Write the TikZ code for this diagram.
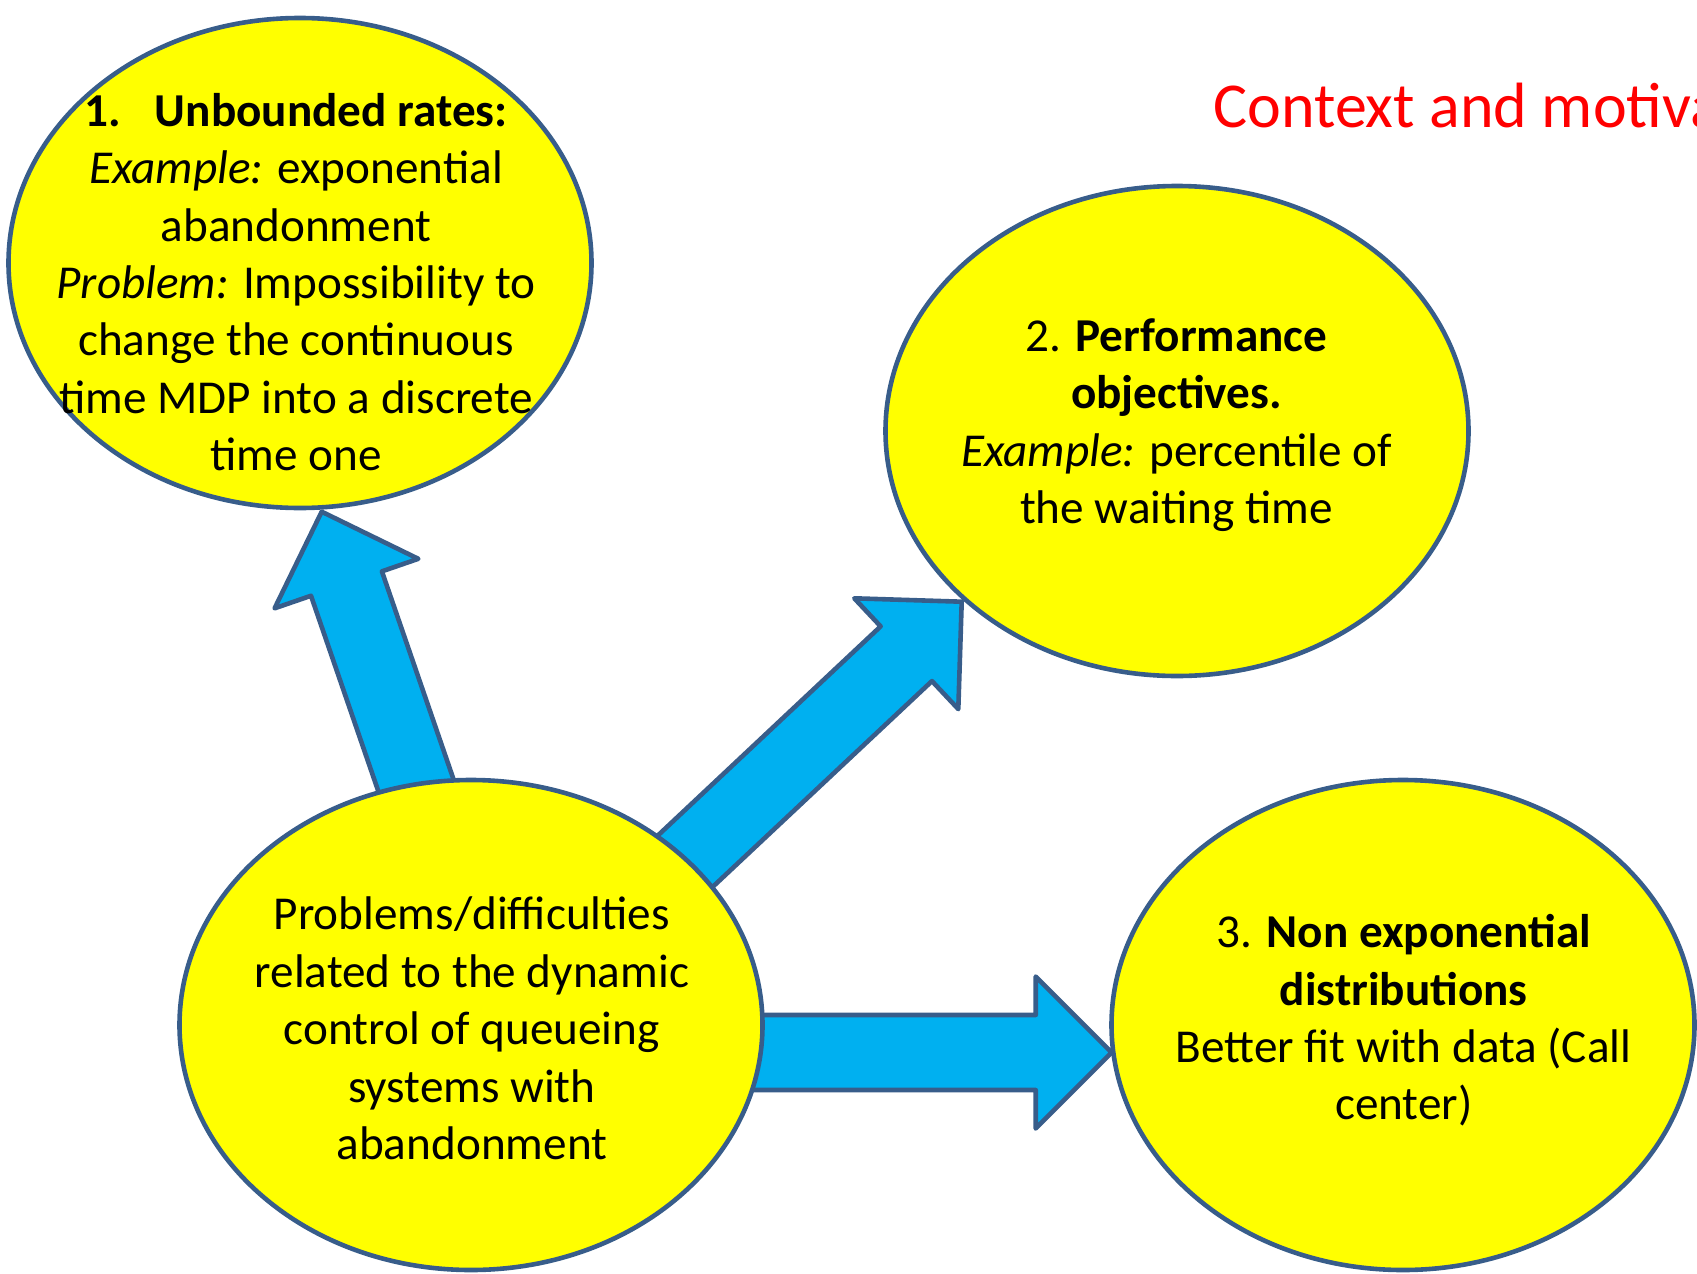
\documentclass[tikz,border=0pt]{standalone}
\usepackage{fontspec}
\setmainfont{Carlito}
\usetikzlibrary{shapes.geometric,calc}
\definecolor{rimblue}{RGB}{56,93,138}
\definecolor{arrowcyan}{RGB}{0,176,240}
\definecolor{bubbleyellow}{RGB}{255,255,0}
\definecolor{titlered}{RGB}{255,0,0}

% Block arrow from #1 (tail, hidden under the source bubble) to #2 (tip)
\newcommand{\flowarrow}[2]{%
  \coordinate (fa-h) at ($(#2)!38pt!(#1)$);
  \draw[blockarrow]
    ($(#1)!18.75pt!90:(#2)$) -- ($(fa-h)!18.75pt!-90:(#1)$) --
    ($(fa-h)!38pt!-90:(#1)$) -- (#2) --
    ($(fa-h)!38pt!90:(#1)$) -- ($(fa-h)!18.75pt!90:(#1)$) --
    ($(#1)!18.75pt!-90:(#2)$) -- cycle;
}

\begin{document}
\begin{tikzpicture}[x=0.5pt,y=-0.5pt,
  bubble/.style={ellipse, draw=rimblue, fill=bubbleyellow, line width=2.3pt,
    minimum width=291.5pt, minimum height=245pt, inner sep=0pt},
  bubbletext/.style={align=center, inner sep=0pt,
    font=\fontsize{23.6}{28.7}\selectfont},
  blockarrow/.style={draw=rimblue, fill=arrowcyan, line width=2.3pt, line join=round},
]
\useasboundingbox (0,0) rectangle (1697,1274);
\clip (0,0) rectangle (1697,1274);

% arrow end points
\coordinate (tail1) at (425.6,813.4);
\coordinate (tip1)  at (321.7,511.7);
\coordinate (tail2) at (664.7,880.5);
\coordinate (tip2)  at (961.7,601.7);
\coordinate (tail3) at (730,1052.5);
\coordinate (tip3)  at (1111.7,1052.5);

\flowarrow{tail1}{tip1}
\flowarrow{tail2}{tip2}
\flowarrow{tail3}{tip3}

% bubbles
\node[bubble] (rates)   at (300,263)  {};
\node[bubble] (perf)    at (1177,431) {};
\node[bubble] (nonexp)  at (1403,1025) {};
\node[bubble] (problem) at (471,1025) {};

% bubble texts
\node[bubbletext] (ratestext) at (296,282.2)
  {\textbf{1.\hspace{17pt}Unbounded rates:}\\
   \textit{Example:} exponential\\
   abandonment\\
   \textit{Problem:} Impossibility to\\
   change the continuous\\
   time MDP into a discrete\\
   time one};
\node[bubbletext] (perftext) at (1176.5,425)
  {2. \textbf{Performance}\\
   \textbf{objectives.}\\
   \textit{Example:} percentile of\\
   the waiting time};
\node[bubbletext] (nonexptext) at (1403.7,1020.5)
  {3. \textbf{Non exponential}\\
   \textbf{distributions}\\
   Better fit with data (Call\\
   center)};
\node[bubbletext] (problemtext) at (471.9,1028.5)
  {Problems/difficulties\\
   related to the dynamic\\
   control of queueing\\
   systems with\\
   abandonment};

% heading
\node[anchor=base west, inner sep=0pt, text=titlered,
  font=\fontsize{32}{38}\selectfont] (heading) at (1213,127)
  {Context and motivation};
\end{tikzpicture}
\end{document}
